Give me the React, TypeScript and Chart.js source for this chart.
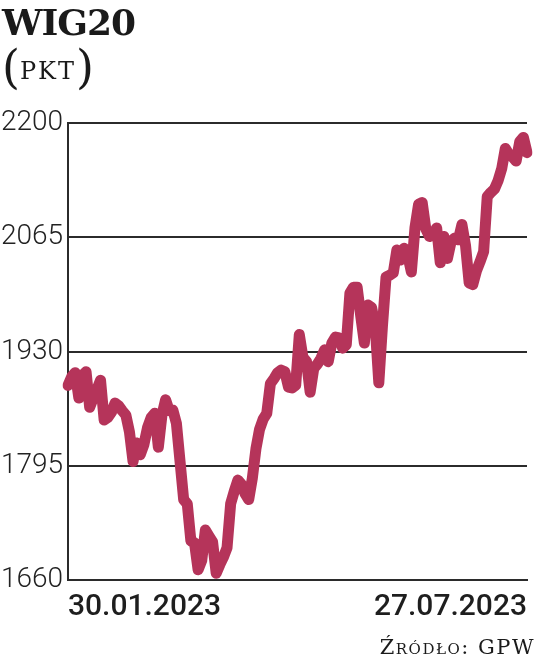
import React, { useEffect, useRef } from "react";
import { Chart, registerables } from "chart.js";

Chart.register(...registerables);

const titleText = "WIG20";
const unitText = "PKT";
const sourceText = "Źródło: GPW";
const xTickLabels = ["30.01.2023", "27.07.2023"];
const yTicks = [1660, 1795, 1930, 2065, 2200];

const values = [
  1890, 1900, 1905, 1875, 1902, 1906, 1864, 1875, 1885, 1896,
  1849, 1852, 1858, 1869, 1866, 1860, 1855, 1835, 1800, 1822,
  1808, 1820, 1840, 1852, 1857, 1817, 1855, 1873, 1860, 1861,
  1845, 1800, 1755, 1750, 1706, 1704, 1672, 1683, 1719, 1712,
  1705, 1668, 1678, 1687, 1698, 1750, 1765, 1778, 1773, 1762,
  1755, 1780, 1815, 1838, 1850, 1857, 1892, 1898, 1905, 1908,
  1906, 1888, 1887, 1890, 1950, 1923, 1918, 1882, 1910, 1915,
  1922, 1932, 1918, 1940, 1947, 1946, 1934, 1938, 1999, 2006,
  2006, 1972, 1940, 1985, 1982, 1960, 1893, 1960, 2018, 2020,
  2023, 2050, 2038, 2052, 2044, 2024, 2076, 2104, 2106, 2075,
  2066, 2068, 2076, 2035, 2066, 2040, 2060, 2064, 2062, 2080,
  2055, 2011, 2009, 2025, 2036, 2048, 2113, 2118, 2122, 2132,
  2146, 2170, 2163, 2160, 2155, 2178, 2183, 2165,
];

const sessions = values.map((_, i) => String(i + 1));

const LINE_COLOR = "#b5345a";
const GRID_COLOR = "#2b2b2b";

export default function App() {
  const canvasRef = useRef<HTMLCanvasElement | null>(null);

  useEffect(() => {
    const canvas = canvasRef.current;
    if (!canvas) return;
    const chart = new Chart(canvas, {
      type: "line",
      data: {
        labels: sessions,
        datasets: [
          {
            data: values,
            borderColor: LINE_COLOR,
            borderWidth: 11,
            pointRadius: 0,
            tension: 0,
            borderJoinStyle: "round",
            borderCapStyle: "round",
            fill: false,
          },
        ],
      },
      options: {
        responsive: false,
        animation: false,
        layout: { padding: { top: 123, right: 5, left: 0, bottom: 0 } },
        plugins: { legend: { display: false }, tooltip: { enabled: false } },
        scales: {
          x: {
            type: "category",
            offset: false,
            grid: { display: false, drawTicks: false },
            border: { display: true, color: GRID_COLOR, width: 2 },
            afterFit: (scale: any) => {
              scale.height = 87;
            },
            afterBuildTicks: (scale: any) => {
              const t = scale.ticks;
              scale.ticks = [t[0], t[t.length - 1]];
            },
            ticks: {
              autoSkip: false,
              maxRotation: 0,
              align: "inner",
              padding: 9,
              color: "#1e1e1e",
              font: {
                family: "Roboto, sans-serif",
                size: 30,
                weight: 500,
              },
              callback: (_v: any, idx: number) => xTickLabels[idx === 0 ? 0 : 1],
            },
          },
          y: {
            min: yTicks[0],
            max: yTicks[yTicks.length - 1],
            afterFit: (scale: any) => {
              scale.width = 68;
            },
            afterBuildTicks: (scale: any) => {
              scale.ticks = yTicks.map((v) => ({ value: v }));
            },
            grid: { color: GRID_COLOR, lineWidth: 2, drawTicks: false },
            border: { display: true, color: GRID_COLOR, width: 2 },
            ticks: {
              padding: 5,
              color: "#222",
              font: { family: "Roboto", size: 28, weight: 300 },
              callback: (v: any) => String(v),
            },
          },
        },
      },
    });
    return () => chart.destroy();
  }, []);

  return (
    <div
      style={{
        position: "absolute",
        left: 0,
        top: 0,
        width: 536,
        height: 667,
        background: "#fff",
        overflow: "hidden",
      }}
    >
      <canvas
        ref={canvasRef}
        width={536}
        height={667}
        style={{ position: "absolute", left: 0, top: 0 }}
      />
      <div
        style={{
          position: "absolute",
          left: 2,
          top: 4,
          fontFamily: "'DejaVu Serif', serif",
          fontWeight: "bold",
          fontSize: 36,
          lineHeight: "36px",
          letterSpacing: -1,
          color: "#1a1a1a",
        }}
      >
        {titleText}
      </div>
      <div
        style={{
          position: "absolute",
          left: 2,
          top: 41,
          fontFamily: "'DejaVu Serif', serif",
          fontSize: 46,
          lineHeight: "52px",
          fontWeight: 300,
          color: "#1a1a1a",
          whiteSpace: "nowrap",
        }}
      >
        (<span style={{ fontSize: 24, letterSpacing: 2, position: "relative", top: -4 }}>{unitText}</span>)
      </div>
      <div
        style={{
          position: "absolute",
          right: 1,
          top: 635,
          fontFamily: "'DejaVu Serif', serif",
          fontSize: 21,
          lineHeight: "24px",
          fontVariant: "small-caps",
          letterSpacing: 1.5,
          color: "#1a1a1a",
          whiteSpace: "nowrap",
        }}
      >
        {sourceText}
      </div>
    </div>
  );
}
